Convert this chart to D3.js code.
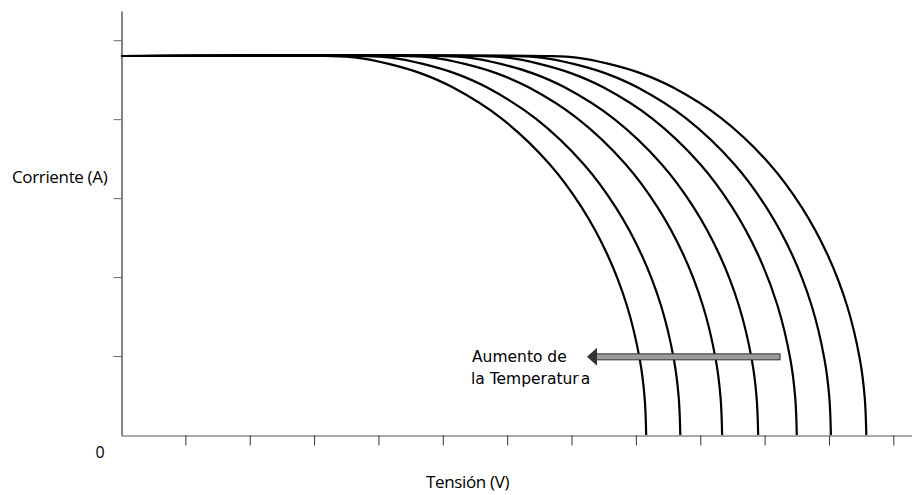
<!DOCTYPE html>
<html>
<head>
<meta charset="utf-8">
<script src="https://cdn.jsdelivr.net/npm/d3@7"></script>
<style>
  html, body { margin: 0; padding: 0; background: #fff; }
  svg { display: block; }
</style>
</head>
<body>
<svg id="chart" width="912" height="495"></svg>
<script>
// Current values (A) shared by all curves
const corriente = [4.80, 4.80, 4.78, 4.70, 4.58, 4.40, 4.01, 3.43, 2.88, 2.28, 1.64, 0.96, 0.48, 0];

// Voltage values (V) for each temperature curve (lowest temperature = rightmost)
const tensionT1 = [0, 6.58, 7.08, 7.58, 8.08, 8.58, 9.33, 10.08, 10.58, 10.98, 11.28, 11.48, 11.555, 11.58];
const tensionT2 = [0, 6.03, 6.53, 7.03, 7.53, 8.03, 8.78, 9.53, 10.03, 10.43, 10.73, 10.93, 11.005, 11.03];
const tensionT3 = [0, 5.50, 6.00, 6.50, 7.00, 7.50, 8.25, 9.00, 9.50, 9.90, 10.20, 10.40, 10.475, 10.50];
const tensionT4 = [0, 4.90, 5.40, 5.90, 6.40, 6.90, 7.65, 8.40, 8.90, 9.30, 9.60, 9.80, 9.875, 9.90];
const tensionT5 = [0, 4.34, 4.84, 5.34, 5.84, 6.34, 7.09, 7.84, 8.34, 8.74, 9.04, 9.24, 9.315, 9.34];
const tensionT6 = [0, 3.69, 4.19, 4.69, 5.19, 5.69, 6.44, 7.19, 7.69, 8.09, 8.39, 8.59, 8.665, 8.69];
const tensionT7 = [0, 3.16, 3.66, 4.16, 4.66, 5.16, 5.91, 6.66, 7.16, 7.56, 7.86, 8.06, 8.135, 8.16];

const xTicks = [1, 2, 3, 4, 5, 6, 7, 8, 9, 10, 11, 12];
const yTicks = [1, 2, 3, 4, 5];
const xMax = 12.29;
const yMax = 5.37;

const svg = d3.select("#chart");
const x = d3.scaleLinear().domain([0, xMax]).range([121, 912]);
const y = d3.scaleLinear().domain([0, yMax]).range([435, 11]);

// Axes
const xAxis = svg.append("g")
  .attr("transform", "translate(0,435.5)")
  .call(d3.axisBottom(x).tickValues(xTicks).tickSize(10).tickSizeOuter(0).tickFormat(""));
xAxis.select(".domain").attr("stroke", "#555").attr("stroke-width", 1.2);
xAxis.selectAll(".tick line").attr("stroke", "#333");

const yAxis = svg.append("g")
  .attr("transform", "translate(121.5,0)")
  .call(d3.axisLeft(y).tickValues(yTicks).tickSize(8).tickSizeOuter(0).tickFormat(""));
yAxis.select(".domain").attr("stroke", "#333").attr("stroke-width", 1.2);
yAxis.selectAll(".tick line").attr("stroke", "#666");

// Curves
const curves = [tensionT1, tensionT2, tensionT3, tensionT4, tensionT5, tensionT6, tensionT7];
const line = d3.line()
  .x(d => x(d[0]))
  .y(d => y(d[1]))
  .curve(d3.curveCatmullRom.alpha(0.5));

svg.append("g").selectAll("path")
  .data(curves)
  .join("path")
  .attr("d", v => line(v.map((vv, i) => [vv, corriente[i]])))
  .attr("fill", "none")
  .attr("stroke", "#000")
  .attr("stroke-width", 2.2);

// Axis labels
svg.append("text")
  .attr("x", 12).attr("y", 183)
  .attr("font-family", "Open Sans, sans-serif")
  .attr("font-size", 17)
  .attr("letter-spacing", -0.35)
  .attr("fill", "#000")
  .text("Corriente (A)");

svg.append("text")
  .attr("x", 426).attr("y", 488)
  .attr("font-family", "Open Sans, sans-serif")
  .attr("font-size", 17)
  .attr("letter-spacing", -0.35)
  .attr("fill", "#000")
  .text("Tensión (V)");

svg.append("text")
  .attr("x", 100).attr("y", 458)
  .attr("text-anchor", "middle")
  .attr("font-family", "Open Sans, sans-serif")
  .attr("font-size", 16)
  .attr("fill", "#000")
  .text("0");

// Annotation
const ann = svg.append("g").attr("font-family", "DejaVu Sans, sans-serif").attr("font-size", 15.5).attr("fill", "#000");
ann.append("text").attr("x", 472).attr("y", 362).text("Aumento de");
const t2 = ann.append("text").attr("x", 471).attr("y", 384);
t2.append("tspan").text("la Temperatur");
t2.append("tspan").attr("dx", 2).text("a");

// Arrow
const ay = y(0.99);
const xStart = x(10.24), xHeadBase = x(7.38), xTip = x(7.24);
svg.append("rect")
  .attr("x", xHeadBase).attr("y", ay - 3)
  .attr("width", xStart - xHeadBase).attr("height", 6)
  .attr("fill", "#9a9a9a").attr("stroke", "#333").attr("stroke-width", 1);
svg.append("path")
  .attr("d", `M${xTip},${ay} L${xHeadBase + 1},${ay - 9} L${xHeadBase + 1},${ay + 9} Z`)
  .attr("fill", "#333");
</script>
</body>
</html>
